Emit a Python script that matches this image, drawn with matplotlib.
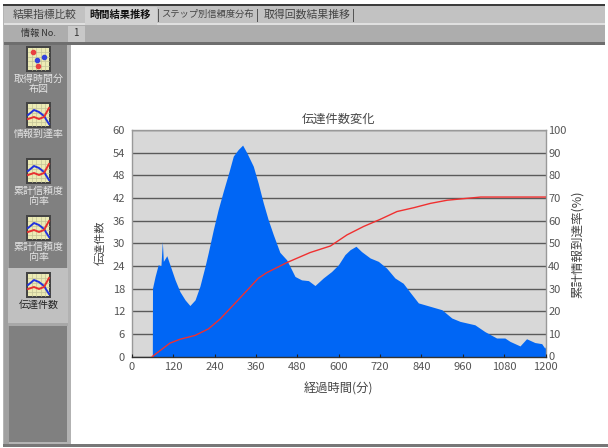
import matplotlib
matplotlib.use("Agg")
import matplotlib.pyplot as plt
from matplotlib.patches import Rectangle

plt.rcParams['font.family'] = ['Noto Sans CJK JP', 'DejaVu Sans']

# ---- data ----
count_minutes = [59, 59.5, 67, 76, 84, 88, 91, 101, 110, 125, 139, 154, 168, 183, 197, 212, 221, 236, 250, 265, 282, 294,
                 308, 321, 333, 352, 366, 381, 395, 410, 429, 449, 473, 492, 512, 531, 555, 579, 599, 618, 633, 650,
                 666, 691, 715, 739, 763, 787, 807, 831, 865, 899, 928, 952, 995, 1024, 1058, 1082, 1097, 1126, 1145,
                 1169, 1189, 1198, 1200]
count_values = [0, 18.1, 21.2, 24.3, 24, 30.5, 25.2, 26.7, 24.3, 20.3, 17.2, 15, 13.5, 15, 18.6, 23.9, 27.4, 33.6, 38.9, 43.8, 49.1, 53.1,
                54.8, 56, 54, 50.4, 46, 40.7, 36.3, 32.3, 27.6, 25.6, 21.2, 20.3, 20.1, 18.8, 20.8, 22.5, 24.3, 27, 28.3, 29.2,
                27.8, 26.1, 25.2, 23.4, 20.8, 19.4, 17, 14.2, 13.3, 12.4, 10.2, 9.3, 8.4, 6.6, 4.9, 4.9, 4, 2.8, 4.7,
                3.7, 3.4, 2.2, 2.6]
rate_minutes = [59, 110, 139, 183, 222, 256, 304, 367, 391, 450, 517, 576, 624, 672, 721, 769, 818, 866, 915, 963, 1012, 1200]
rate_values = [0, 5.9, 7.6, 9.3, 12.2, 16.6, 24.3, 34.6, 37, 41.5, 45.9, 48.8, 53.7, 57.4, 60.6, 64, 65.7, 67.6, 69, 69.7, 70.4, 70.4]
x_ticks = [0, 120, 240, 360, 480, 600, 720, 840, 960, 1080, 1200]
count_ticks = [0, 6, 12, 18, 24, 30, 36, 42, 48, 54, 60]
rate_ticks = [0, 10, 20, 30, 40, 50, 60, 70, 80, 90, 100]

title = '伝達件数変化'
x_label = '経過時間(分)'
left_label = '伝達件数'
right_label = '累計情報到達率(%)'
tab_labels = ['結果指標比較', '時間結果推移', 'ステップ別信頼度分布', '取得回数結果推移']
side_labels = ['取得時間分\n布図', '情報到達率', '累計信頼度\n向率', '累計信頼度\n向率', '伝達件数']

W, H = 608, 448
fig = plt.figure(figsize=(W / 100, H / 100), dpi=100, facecolor='white')

# ---- window chrome in pixel coordinates ----
ui = fig.add_axes([0, 0, 1, 1], zorder=0)
ui.set_xlim(0, W); ui.set_ylim(H, 0); ui.axis('off')

def box(x0, y0, x1, y1, c, z=1, **kw):
    ui.add_patch(Rectangle((x0, y0), x1 - x0, y1 - y0, facecolor=c, edgecolor='none', zorder=z, **kw))

box(3, 5, 605, 445, '#b4b4b4')
box(3, 4, 605, 6, '#3c3c3c', 2)
box(4, 6, 605, 23, '#c2c2c2', 2)
box(4, 23, 605, 25, '#e0e0e0', 2)
box(4, 25, 605, 42, '#adadad', 2)
box(4, 42, 605, 45, '#6e6e6e', 2)
box(71, 45, 605, 444, 'white', 2)
box(3, 444, 608, 447, '#777777', 3)
box(4, 45, 9, 444, '#a0a0a0', 2)
box(9, 45, 67, 442, '#808080', 2)
box(67, 45, 71, 444, '#b2b2b2', 2)
box(8, 268, 68, 323, '#c0c0c0', 3)
box(8, 323, 68, 326, '#a8a8a8', 3)
box(85, 7, 157, 25, '#d2d2d2', 3)
box(68, 26, 85, 42, '#c8c8c8', 3)
for sx in (158, 257, 353):
    box(sx, 9, sx + 1, 22, '#555555', 4)

tab_pos = [(45, '#444444', 'normal', 7.7), (120, '#111111', 'bold', 7.4), (207.5, '#444444', 'normal', 6.7), (307, '#444444', 'normal', 7.8)]
for lab, (px, col, wt, fs) in zip(tab_labels, tab_pos):
    ui.text(px, 14.5, lab, ha='center', va='center', fontsize=fs, color=col, weight=wt, zorder=5)
ui.text(38, 33, '情報 No.', ha='center', va='center', fontsize=6.6, color='#333333', zorder=5)
ui.text(76, 33, '1', ha='center', va='center', fontsize=7, color='#333333', zorder=5)

def icon(y0, scatter=False):
    x0, x1, y1 = 26, 51, y0 + 26
    box(x0, y0, x1, y1, '#444444', 4)
    box(x0 + 2, y0 + 2, x1 - 2, y1 - 2, '#ecebb4', 5)
    for k in range(1, 5):
        ui.plot([x0 + 2 + k * 4.2] * 2, [y0 + 2, y1 - 2], color='#c4c498', lw=0.5, zorder=5.5)
        ui.plot([x0 + 2, x1 - 2], [y0 + 2 + k * 4.4] * 2, color='#c4c498', lw=0.5, zorder=5.5)
    if scatter:
        ui.plot([33, 38], [52, 66], 'o', color='#e84040', ms=3, zorder=6)
        ui.plot([37, 44], [60, 57], 'o', color='#3344dd', ms=3, zorder=6)
    else:
        ui.plot([x0 + 2, x0 + 8, x0 + 13, x0 + 18, x1 - 2], [y0 + 13, y0 + 8, y0 + 10, y0 + 14, y0 + 22], color='#2233dd', lw=1.4, zorder=6)
        ui.plot([x0 + 2, x0 + 8, x0 + 13, x0 + 18, x1 - 2], [y0 + 17, y0 + 15, y0 + 17, y0 + 15, y0 + 6], color='#e83030', lw=1.4, zorder=6)

icon(46, True); icon(102); icon(158); icon(215); icon(272)
side_y = [84, 134, 196, 252, 305]
for i, (lab, py) in enumerate(zip(side_labels, side_y)):
    ui.text(38.5, py, lab, ha='center', va='center', fontsize=7.2, linespacing=1.05,
            color='#222222' if i == 4 else '#e4e4e4', zorder=5)

# ---- chart ----
L, R, T, B = 132, 545.5, 130, 356.5
ax = fig.add_axes([L / W, 1 - B / H, (R - L) / W, (B - T) / H], zorder=2)
ax.set_facecolor('#d8d8d8')
ax.set_xlim(0, 1200); ax.set_ylim(0, 60)
ax.set_axisbelow(True)
ax.grid(axis='y', color='#5a5a5a', lw=1.0)
ax.fill_between(count_minutes, count_values, 0, color='#0066f5', lw=0, zorder=2)
ax.set_xticks(x_ticks); ax.set_yticks(count_ticks)
ax.tick_params(length=0, labelsize=8, labelcolor='#555555')
ax.tick_params(axis='x', pad=4); ax.tick_params(axis='y', pad=5)
for s in ax.spines.values():
    s.set_color('#999999'); s.set_linewidth(1)
ax.spines['bottom'].set_color('#333333')

ax2 = ax.twinx()
ax2.set_ylim(0, 100); ax2.set_yticks(rate_ticks)
ax2.plot(rate_minutes, rate_values, color='#f03030', lw=1.0, zorder=3)
ax2.tick_params(axis='y', length=0, labelsize=8, labelcolor='#555555', pad=2)
ax2.xaxis.set_visible(True)
ax2.tick_params(axis='x', direction='in', length=2, color='#222222', bottom=True, labelbottom=False)
for s in ax2.spines.values():
    s.set_visible(False)

kw = dict(color='#444444', zorder=10)
fig.text((L + R) / 2 / W, 1 - 119 / H, title, ha='center', va='center', fontsize=8.8, **kw)
fig.text((L + R) / 2 / W, 1 - 389 / H, x_label, ha='center', va='center', fontsize=8.8, **kw)
fig.text(100 / W, 1 - 243 / H, left_label, rotation=90, ha='center', va='center', fontsize=8.0, **kw)
fig.text(577 / W, 1 - 244 / H, right_label, rotation=90, ha='center', va='center', fontsize=9.0, **kw)

fig.savefig('out.png', dpi=100)
